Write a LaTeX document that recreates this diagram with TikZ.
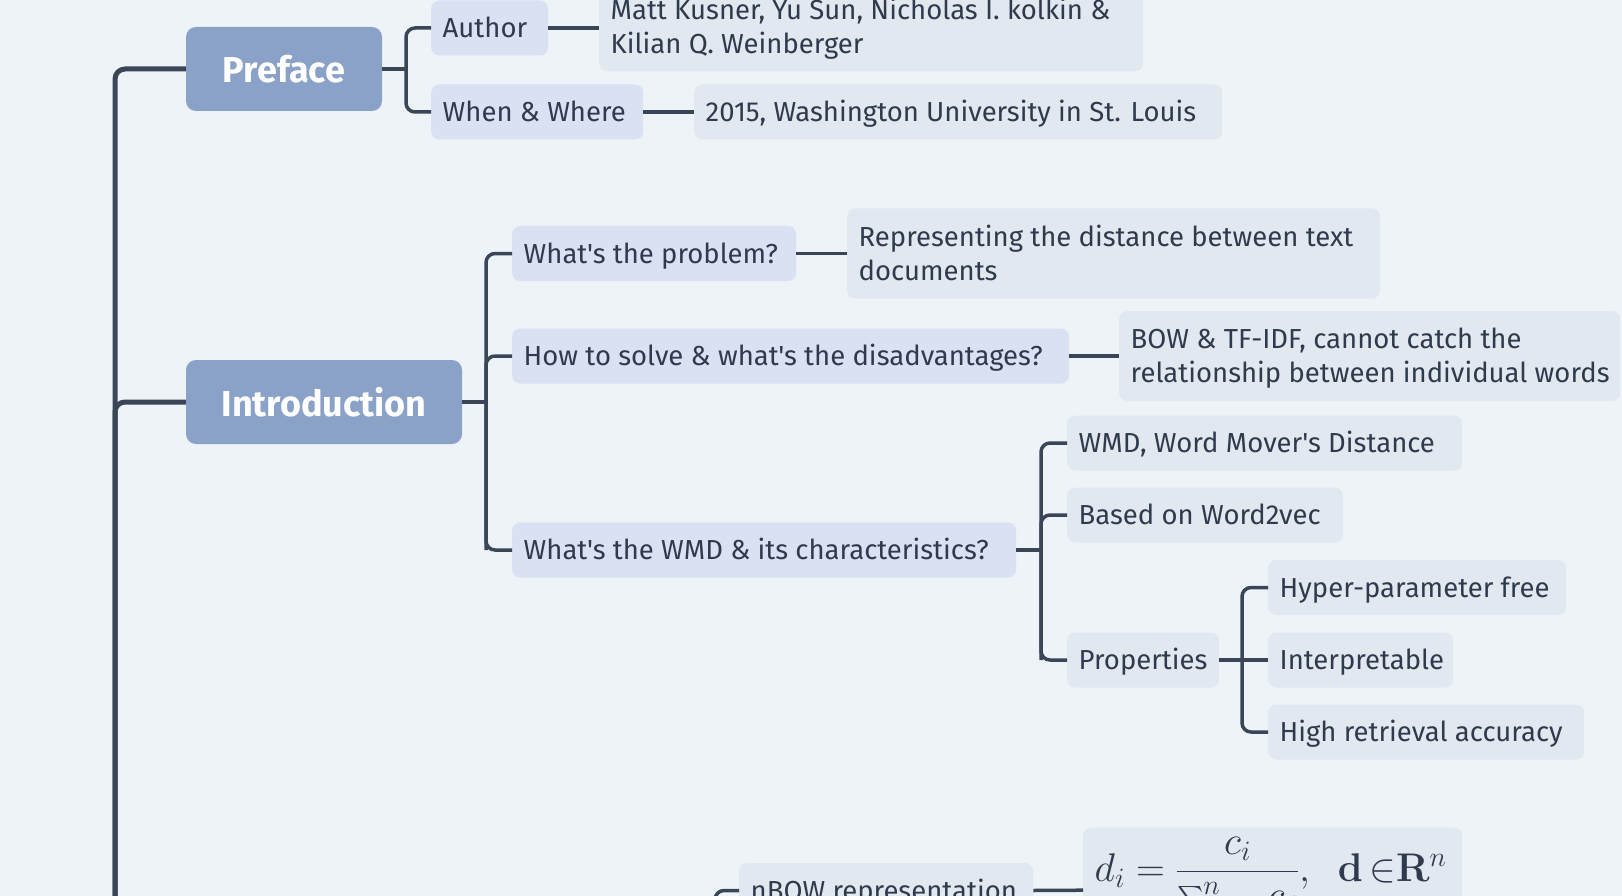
\RequirePackage{fix-cm}
\documentclass[tikz,border=0pt]{standalone}
\usepackage{amsmath}
\usepackage[no-math]{fontspec}
\setmainfont{Fira Sans}[Ligatures=TeXOff]
\definecolor{bgc}{HTML}{EDF3F7}
\definecolor{topc}{HTML}{8AA2C7}
\definecolor{subc}{HTML}{DAE1F3}
\definecolor{leafc}{HTML}{E2E8F0}
\definecolor{linec}{HTML}{3A4558}
\definecolor{textc}{HTML}{2F3A4D}
\newcommand\bx[2]{\makebox[#1pt][l]{#2}}
\tikzset{
  ln/.style={draw=linec, line width=3.5pt, rounded corners=9pt},
  trunk/.style={draw=linec, line width=5pt, rounded corners=10pt},
  topic/.style={fill=topc, rounded corners=10pt, text=white, font=\fontsize{36}{40}\selectfont\bfseries, minimum height=84pt, inner sep=0pt},
  sub/.style={fill=subc, rounded corners=8pt, text=textc, font=\fontsize{27.5}{34}\selectfont, inner xsep=11.5pt, inner ysep=0pt, minimum height=55pt, text height=25pt, text depth=5.6pt, anchor=west},
  leaf/.style={sub, fill=leafc},
  two/.style={align=left, minimum height=90pt, text height=59pt, text depth=5.6pt},
}
\begin{document}
\begin{tikzpicture}[x=1pt,y=-1pt]
\useasboundingbox (0,0) rectangle (1622,896);
\clip (0,0) rectangle (1622,896);
\fill[bgc] (0,0) rectangle (1622,896);

% main topics
\node[topic, minimum width=196pt] (pre) at (284,69) {Preface};
\node[topic, minimum width=276pt] (intro) at (324,402) {Introduction};

% preface branch
\node[sub] (author) at (431,28) {\bx{94}{Author}};
\node[leaf, two] (authv) at (599,26.5) {\bx{521}{Matt Kusner, Yu Sun, Nicholas I. kolkin \&}\\\bx{521}{Kilian Q. Weinberger}};
\node[sub] (when) at (431,112) {\bx{189}{When \& Where}};
\node[leaf] (whenv) at (694,112) {\bx{505}{2015, Washington University in St. Louis}};

% introduction branch
\node[sub] (prob) at (512,253.5) {\bx{261}{What's the problem?}};
\node[leaf, two] (probv) at (847,253.5) {\bx{510}{Representing the distance between text}\\\bx{510}{documents}};
\node[sub] (how) at (512,356) {\bx{534}{How to solve \& what's the disadvantages?}};
\node[leaf, two] (howv) at (1119,356) {\bx{478}{BOW \& TF-IDF, cannot catch the}\\\bx{478}{relationship between individual words}};
\node[sub] (wmdq) at (512,550) {\bx{481}{What's the WMD \& its characteristics?}};
\node[leaf] (wmd) at (1067,443) {\bx{372}{WMD, Word Mover's Distance}};
\node[leaf] (w2v) at (1067,515) {\bx{253}{Based on Word2vec}};
\node[leaf] (prop) at (1067,660) {\bx{129}{Properties}};
\node[leaf] (hyp) at (1268,587.5) {\bx{275}{Hyper-parameter free}};
\node[leaf] (interp) at (1268,660) {\bx{162}{Interpretable}};
\node[leaf] (high) at (1268,732) {\bx{293}{High retrieval accuracy}};

% bottom (partly visible)
\node[leaf] (nbow) at (739,890.5) {\bx{271}{nBOW representation}};
\node[leaf, anchor=north west, text height=53.5pt, text depth=71.5pt] (form) at (1083,827.5)
  {\bx{356}{\fontsize{40}{46}\selectfont$d_i=\dfrac{c_i}{\sum_{j=1}^{n}\;c_j},\ \ \mathbf{d}\,{\in}\mathbf{R}^n$}};

% coordinates
\coordinate (tb) at (115,910);
\coordinate (b1) at ([xshift=-25pt]author.west);
\coordinate (b2) at ([xshift=-26pt]prob.west);
\coordinate (b3) at ([xshift=-26pt]wmd.west);
\coordinate (b4) at ([xshift=-26pt]hyp.west);
\coordinate (b5) at (715,910);

% trunk
\draw[trunk] (pre.west) -| (tb);
\draw[trunk] (intro.west) -| (tb);

% preface connectors
\draw[ln] (pre.east) -- (pre.east -| b1);
\draw[ln] (author.west) -- (b1) |- (when.west);
\draw[ln] (author.east) -- (author.east -| authv.west);
\draw[ln] (when.east) -- (whenv.west);

% intro connectors
\draw[ln] (intro.east) -- (intro.east -| b2);
\draw[ln] (prob.west) -- (b2) |- (wmdq.west);
\draw[ln] (how.west) -| (b2 |- wmdq.west);
\draw[ln] (prob.east) -- (probv.west);
\draw[ln] (how.east) -- (howv.west);

\draw[ln] (wmdq.east) -- (wmdq.east -| b3);
\draw[ln] (wmd.west) -- (b3) |- (prop.west);
\draw[ln] (w2v.west) -| (b3 |- prop.west);

\draw[ln] (prop.east) -- (interp.west);
\draw[ln] (hyp.west) -- (b4) |- (high.west);

\draw[ln] (nbow.west) -| (b5);
\draw[ln] (nbow.east) -- (form.west);
\end{tikzpicture}
\end{document}
